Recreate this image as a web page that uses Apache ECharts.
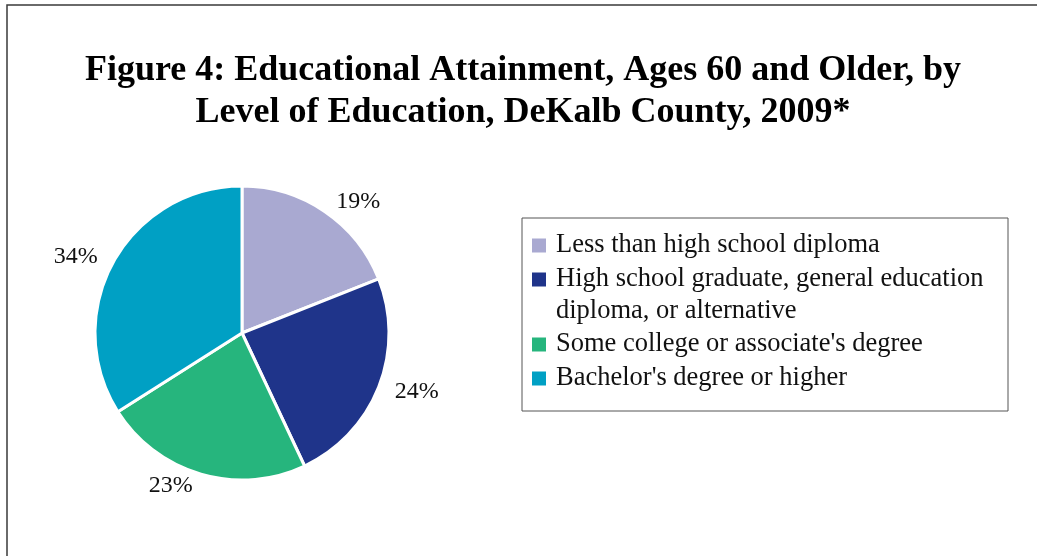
<!DOCTYPE html>
<html>
<head>
<meta charset="utf-8">
<script src="https://cdn.jsdelivr.net/npm/echarts@6/dist/echarts.min.js"></script>
<style>
  html, body { margin: 0; padding: 0; background: #fff; }
  #chart { width: 1037px; height: 556px; }
</style>
</head>
<body>
<div id="chart"></div>
<script>
// Data
const categories = [
  'Less than high school diploma',
  'High school graduate, general education',
  'Some college or associate\'s degree',
  'Bachelor\'s degree or higher'
];
const shares = [19, 24, 23, 34];
const colors = ['#A9A9D1', '#1F348A', '#26B57D', '#00A0C4'];
const titleLines = [
  'Figure 4: Educational Attainment, Ages 60 and Older, by',
  'Level of Education, DeKalb County, 2009*'
];

const chart = echarts.init(document.getElementById('chart'));

const legendText = {
  fontFamily: 'Liberation Serif',
  fontSize: 26.5,
  color: '#111',
  lineHeight: 24,
  padding: [0, 0, 0, 5]
};

const legendBase = {
  orient: 'vertical',
  left: 532,
  padding: 0,
  itemWidth: 14,
  itemHeight: 14,
  itemGap: 7,
  icon: 'rect',
  itemStyle: { borderWidth: 0 },
  textStyle: legendText,
  selectedMode: false
};

const option = {
  backgroundColor: '#fff',
  animation: false,
  color: colors,
  title: {
    text: titleLines.join('\n'),
    left: 518,
    top: 45,
    textAlign: 'center',
    textStyle: {
      fontFamily: 'Liberation Serif',
      fontWeight: 'bold',
      fontSize: 36,
      lineHeight: 42,
      color: '#000'
    }
  },
  legend: [
    Object.assign({}, legendBase, { top: 232, data: categories.slice(0, 2) }),
    Object.assign({}, legendBase, { top: 331, data: categories.slice(2) })
  ],
  graphic: [
    {
      type: 'rect',
      shape: { x: 7, y: 5, width: 1100, height: 600 },
      style: { fill: 'none', stroke: '#3a3a3a', lineWidth: 1.5 },
      silent: true
    },
    {
      type: 'rect',
      shape: { x: 522, y: 218, width: 486, height: 193 },
      style: { fill: 'none', stroke: '#555', lineWidth: 1 },
      silent: true
    },
    {
      type: 'text',
      left: 556,
      top: 298,
      style: {
        text: 'diploma, or alternative',
        font: '26.5px "Liberation Serif"',
        fill: '#111'
      },
      silent: true
    }
  ],
  series: [
    {
      type: 'pie',
      center: [242, 333],
      radius: 147,
      startAngle: 90,
      clockwise: true,
      silent: true,
      data: categories.map((name, i) => ({ name: name, value: shares[i] })),
      itemStyle: { borderColor: '#fff', borderWidth: 3 },
      label: {
        show: true,
        position: 'outside',
        formatter: '{c}%',
        fontFamily: 'Liberation Serif',
        fontSize: 24,
        color: '#111'
      },
      labelLine: { show: false, length: 12, length2: 0 }
    }
  ]
};

chart.setOption(option);
</script>
</body>
</html>
